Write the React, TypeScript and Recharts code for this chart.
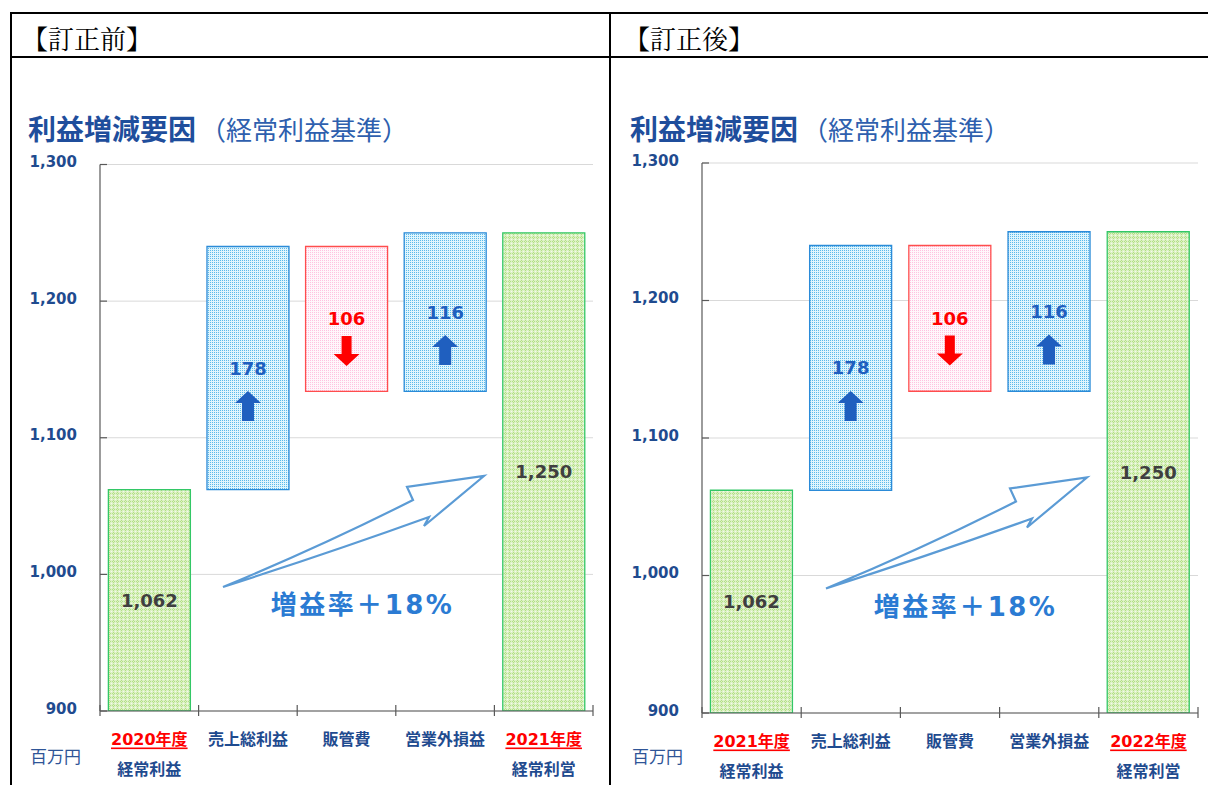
import React from 'react';
import { BarChart, Bar, XAxis, YAxis, CartesianGrid, LabelList, Cell } from 'recharts';

// ---------- data ----------
const categoriesBefore = ['2020年度', '売上総利益', '販管費', '営業外損益', '2021年度'];
const categoriesAfter = ['2021年度', '売上総利益', '販管費', '営業外損益', '2022年度'];
const subLabels = ['経常利益', '', '', '', '経常利営'];
const startProfit = 1062;
const deltas = [178, -106, 116];
const endProfit = 1250;
const yTicks = [900, 1000, 1100, 1200, 1300];
const growthLabel = '増益率＋18%';
const headerBefore = '【訂正前】';
const headerAfter = '【訂正後】';
const titleMain = '利益増減要因';
const titleSub = '（経常利益基準）';
const unitLabel = '百万円';

type Kind = 'total' | 'up' | 'down';
type Row = { cat: string; sub: string; range: [number, number]; kind: Kind; text: string; highlight: boolean };

const fmt = (v: number) => v.toLocaleString('en-US');

function buildRows(cats: string[]): Row[] {
  const base = yTicks[0];
  const rows: Row[] = [
    { cat: cats[0], sub: subLabels[0], range: [base, startProfit], kind: 'total', text: fmt(startProfit), highlight: true },
  ];
  let level = startProfit;
  deltas.forEach((d, i) => {
    const next = level + d;
    rows.push({
      cat: cats[i + 1],
      sub: subLabels[i + 1],
      range: [Math.min(level, next), Math.max(level, next)],
      kind: d >= 0 ? 'up' : 'down',
      text: fmt(Math.abs(d)),
      highlight: false,
    });
    level = next;
  });
  rows.push({ cat: cats[4], sub: subLabels[4], range: [base, endProfit], kind: 'total', text: fmt(endProfit), highlight: true });
  return rows;
}

const rowsBefore = buildRows(categoriesBefore);
const rowsAfter = buildRows(categoriesAfter);

// ---------- styles ----------
const FONT = '"DejaVu Sans", "Noto Sans CJK JP", sans-serif';
const CJK = '"Noto Sans CJK JP", sans-serif';
const AXIS = '#595959';
const NAVY = '#1F4B8F';
const BLUE_TXT = '#1F5FBF';
const RED = '#FF0000';

const FILL: Record<Kind, string> = { total: 'url(#patGreen)', up: 'url(#patBlue)', down: 'url(#patPink)' };
const STROKE: Record<Kind, string> = { total: '#33C766', up: '#2B8BD8', down: '#FF4D4D' };
const LABEL_COLOR: Record<Kind, string> = { total: '#3F3F3F', up: BLUE_TXT, down: RED };

type Cfg = {
  left: number; top: number; width: number; height: number;
  margin: { top: number; right: number; left: number; bottom: number };
  yAxisWidth: number; xAxisHeight: number;
};

const cfgBefore: Cfg = {
  left: 12, top: 140, width: 598, height: 645,
  margin: { top: 24.5, right: 17, left: 0, bottom: 0 }, yAxisWidth: 88, xAxisHeight: 74,
};
const cfgAfter: Cfg = {
  left: 612, top: 140, width: 596, height: 645,
  margin: { top: 23, right: 10, left: 0, bottom: 0 }, yAxisWidth: 90, xAxisHeight: 72,
};

function WaterfallChart({ cfg, rows }: { cfg: Cfg; rows: Row[] }) {
  const plotW = cfg.width - cfg.margin.left - cfg.margin.right - cfg.yAxisWidth;
  const band = plotW / rows.length;

  const renderXTick = (p: any) => {
    const { x, y, payload } = p;
    const idx = payload?.index ?? p.index ?? 0;
    const row = rows[idx];
    const half = band / 2;
    return (
      <g>
        <line x1={x - half} x2={x - half} y1={y - 6} y2={y + 5} stroke={AXIS} strokeWidth={1.2} />
        {idx === rows.length - 1 && (
          <line x1={x + half} x2={x + half} y1={y - 6} y2={y + 5} stroke={AXIS} strokeWidth={1.2} />
        )}
        <text
          x={x}
          y={y + 28}
          textAnchor="middle"
          dominantBaseline="central"
          fontFamily={FONT}
          fontWeight="bold"
          fontSize={16}
          fill={row.highlight ? RED : NAVY}
          style={row.highlight ? { textDecoration: 'underline' } : undefined}
        >
          {payload.value}
        </text>
        {row.sub && (
          <text x={x} y={y + 58} textAnchor="middle" dominantBaseline="central" fontFamily={FONT} fontWeight="bold" fontSize={16} fill={NAVY}>
            {row.sub}
          </text>
        )}
      </g>
    );
  };

  const renderYTick = (p: any) => {
    const { x, y, payload } = p;
    return (
      <g>
        <line x1={x + 23} x2={x + 30} y1={y} y2={y} stroke={AXIS} strokeWidth={1.2} />
        <text x={x} y={y - 2.5} textAnchor="end" dominantBaseline="central" fontFamily={FONT} fontWeight="bold" fontSize={15} fill={NAVY}>
          {fmt(payload.value)}
        </text>
      </g>
    );
  };

  const renderBarLabel = (p: any) => {
    const { x, y, width, height } = p;
    let idx = p.index;
    if (idx === undefined || rows[idx] === undefined) {
      idx = rows.findIndex((r) => Array.isArray(p.value) && r.range[0] === p.value[0] && r.range[1] === p.value[1]);
    }
    const row = rows[idx];
    if (!row) return null;
    const top = Math.min(y, y + height);
    const h = Math.abs(height);
    const cx = x + width / 2;
    const cy = top + h / 2;
    const color = LABEL_COLOR[row.kind];
    let arrow = null;
    if (row.kind === 'up') {
      const t = cy + 23;
      arrow = (
        <polygon
          points={`${cx},${t} ${cx + 13},${t + 12} ${cx + 6},${t + 12} ${cx + 6},${t + 30} ${cx - 6},${t + 30} ${cx - 6},${t + 12} ${cx - 13},${t + 12}`}
          fill={color}
        />
      );
    } else if (row.kind === 'down') {
      const t = cy + 17;
      arrow = (
        <polygon
          points={`${cx - 5},${t} ${cx + 5},${t} ${cx + 5},${t + 18} ${cx + 13},${t + 18} ${cx},${t + 30} ${cx - 13},${t + 18} ${cx - 5},${t + 18}`}
          fill={color}
        />
      );
    }
    return (
      <g>
        <text x={cx} y={cy} textAnchor="middle" dominantBaseline="central" fontFamily={FONT} fontWeight="bold" fontSize={18} fill={color}>
          {row.text}
        </text>
        {arrow}
      </g>
    );
  };

  return (
    <div style={{ position: 'absolute', left: cfg.left, top: cfg.top }}>
      <BarChart width={cfg.width} height={cfg.height} data={rows} margin={cfg.margin} barCategoryGap="8.5%">
        <CartesianGrid vertical={false} stroke="#D9D9D9" />
        <XAxis
          dataKey="cat"
          interval={0}
          height={cfg.xAxisHeight}
          tickLine={false}
          tickSize={0}
          tickMargin={0}
          axisLine={{ stroke: AXIS, strokeWidth: 1.2 }}
          tick={renderXTick}
        />
        <YAxis
          type="number"
          domain={[yTicks[0], yTicks[yTicks.length - 1]]}
          ticks={yTicks}
          interval={0}
          width={cfg.yAxisWidth}
          tickLine={false}
          tickSize={0}
          tickMargin={23}
          axisLine={{ stroke: AXIS, strokeWidth: 1.2 }}
          tick={renderYTick}
          allowDataOverflow
        />
        <Bar dataKey="range" isAnimationActive={false}>
          {rows.map((r, i) => (
            <Cell key={i} fill={FILL[r.kind]} stroke={STROKE[r.kind]} strokeWidth={1.3} />
          ))}
          <LabelList dataKey="range" content={renderBarLabel} />
        </Bar>
      </BarChart>
    </div>
  );
}

function BigArrow({ dx, dy }: { dx: number; dy: number }) {
  const d = 'M 223 587 Q 322 546 413 500 L 407 487 L 484 476 L 424 526 L 429 517 Q 332 552 223 587 Z';
  return (
    <g transform={`translate(${dx},${dy})`}>
      <path d={d} fill="#FFFFFF" stroke="#5B9BD5" strokeWidth={2.2} strokeLinejoin="miter" />
      <text x={362.5} y={605} textAnchor="middle" dominantBaseline="central" fontFamily={FONT} fontWeight="bold" fontSize={26} letterSpacing={2.5} fill="#2B7BD3">
        {growthLabel}
      </text>
    </g>
  );
}

function PanelText({ dx, header }: { dx: number; header: string }) {
  return (
    <g transform={`translate(${dx},0)`}>
      <text x={22} y={37} dominantBaseline="central" fontFamily={'"Noto Serif CJK JP", "Noto Sans CJK JP", serif'} fontSize={26} fill="#000">
        {header}
      </text>
      <text x={28} y={128} dominantBaseline="central" fontFamily={CJK} fontWeight="bold" fontSize={28} fill="#1F4E9C">
        {titleMain}
      </text>
      <text x={200} y={128} dominantBaseline="central" fontFamily={CJK} fontSize={26} fill="#2E5FAE">
        {titleSub}
      </text>
      <text x={30} y={755} dominantBaseline="central" fontFamily={CJK} fontSize={17} fill="#2F5597">
        {unitLabel}
      </text>
    </g>
  );
}

export default function App() {
  return (
    <div style={{ position: 'absolute', left: 0, top: 0, width: 1208, height: 785, overflow: 'hidden', background: '#FFFFFF' }}>
      <WaterfallChart cfg={cfgBefore} rows={rowsBefore} />
      <WaterfallChart cfg={cfgAfter} rows={rowsAfter} />
      <svg width={1208} height={785} style={{ position: 'absolute', left: 0, top: 0, pointerEvents: 'none' }}>
        <defs>
          <pattern id="patBlue" patternUnits="userSpaceOnUse" width={2} height={2}>
            <rect width={2} height={2} fill="#E0F5FD" />
            <rect width={1} height={1} fill="#5BBAEA" />
          </pattern>
          <pattern id="patPink" patternUnits="userSpaceOnUse" width={2} height={2}>
            <rect width={2} height={2} fill="#FFF7FB" />
            <rect width={1} height={1} fill="#FFC2E0" />
          </pattern>
          <pattern id="patGreen" patternUnits="userSpaceOnUse" width={4} height={4}>
            <rect width={4} height={4} fill="#DDF1C6" />
            <rect x={1} y={0} width={1} height={1} fill="#B2E085" />
            <rect x={0} y={1} width={1} height={1} fill="#B2E085" />
            <rect x={2} y={1} width={1} height={1} fill="#B2E085" />
            <rect x={1} y={2} width={1} height={1} fill="#B2E085" />
            <rect x={3} y={3} width={1} height={1} fill="#F4FBEC" />
          </pattern>
        </defs>
        {/* table borders */}
        <rect x={10} y={12} width={1200} height={2} fill="#000" />
        <rect x={10} y={56} width={1200} height={2} fill="#000" />
        <rect x={10} y={12} width={2} height={780} fill="#000" />
        <rect x={609} y={12} width={2} height={780} fill="#000" />
        <PanelText dx={0} header={headerBefore} />
        <PanelText dx={602} header={headerAfter} />
        <BigArrow dx={0} dy={0} />
        <BigArrow dx={603} dy={1.5} />
      </svg>
    </div>
  );
}
